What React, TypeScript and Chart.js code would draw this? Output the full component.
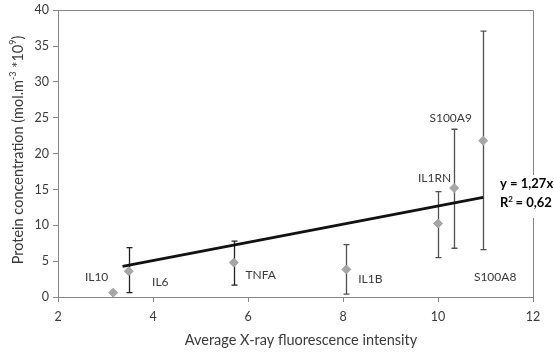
import React, { useEffect, useRef } from 'react';
import { Chart, registerables } from 'chart.js';

Chart.register(...registerables);

// ---- data ----
const names = ['IL10', 'IL6', 'TNFA', 'IL1B', 'IL1RN', 'S100A9', 'S100A8'];
const xValues = [3.16, 3.49, 5.7, 8.07, 10.0, 10.34, 10.95];
const yValues = [0.6, 3.6, 4.8, 3.85, 10.25, 15.2, 21.8];
const errorHigh = [0.6, 6.9, 7.8, 7.3, 14.7, 23.4, 37.1];
const errorLow = [0.6, 0.6, 1.65, 0.4, 5.5, 6.8, 6.6];
const slope = 1.27;
const slopeLabel = '1,27';
const rSquaredLabel = '0,62';
const trendStartX = 3.36;
const trendEndX = 10.95;
const xMin = 2;
const xMax = 12;
const xStep = 2;
const yMin = 0;
const yMax = 40;
const yStep = 5;

// ---- styles ----
const FONT = 'Lato, "Open Sans", sans-serif';
const TEXT = '#3a3a3a';
const AXIS = '#868686';
const labelOffsets = [
  [-16.5, -16],
  [31.5, 11],
  [27, 13],
  [24, 10],
  [-3.5, -45],
  [-3.5, -70],
  [12, 136],
];
const errColors = ['#333', '#222', '#222', '#505050', '#505050', '#505050', '#505050'];

const overlay = {
  id: 'overlay',
  beforeDatasetsDraw(chart: any) {
    const { ctx, chartArea: a, scales } = chart;
    const x = scales.x;
    const y = scales.y;
    ctx.save();
    // top and right border
    ctx.strokeStyle = AXIS;
    ctx.lineWidth = 1;
    ctx.beginPath();
    ctx.moveTo(a.left, Math.round(a.top) + 0.5);
    ctx.lineTo(Math.round(a.right) + 0.5, Math.round(a.top) + 0.5);
    ctx.lineTo(Math.round(a.right) + 0.5, a.bottom);
    ctx.stroke();
    // error bars
    for (let i = 0; i < xValues.length; i++) {
      if (errorHigh[i] === errorLow[i]) continue;
      const px = Math.round(x.getPixelForValue(xValues[i])) + 0.5;
      const hi = y.getPixelForValue(errorHigh[i]);
      const lo = y.getPixelForValue(errorLow[i]);
      ctx.strokeStyle = errColors[i];
      ctx.lineWidth = 1.3;
      ctx.beginPath();
      ctx.moveTo(px, hi);
      ctx.lineTo(px, lo);
      ctx.moveTo(px - 3, hi);
      ctx.lineTo(px + 3, hi);
      ctx.moveTo(px - 3, lo);
      ctx.lineTo(px + 3, lo);
      ctx.stroke();
    }
    ctx.restore();
  },
  afterDatasetsDraw(chart: any) {
    const { ctx, chartArea: a, scales } = chart;
    const x = scales.x;
    const y = scales.y;
    ctx.save();
    // point labels
    ctx.fillStyle = TEXT;
    ctx.font = `12px ${FONT}`;
    ctx.textAlign = 'center';
    ctx.textBaseline = 'middle';
    for (let i = 0; i < names.length; i++) {
      const px = x.getPixelForValue(xValues[i]);
      const py = y.getPixelForValue(yValues[i]);
      ctx.fillText(names[i], px + labelOffsets[i][0], py + labelOffsets[i][1]);
    }
    // equation box
    const ex = a.right - 36;
    ctx.fillStyle = '#ffffff';
    ctx.fillRect(ex, 175, 554 - ex, 43);
    ctx.fillStyle = '#000';
    ctx.font = `bold 13px ${FONT}`;
    ctx.textAlign = 'left';
    ctx.fillText(`y = ${slopeLabel}x`, a.right - 33, 184);
    const r = 'R';
    ctx.fillText(r, a.right - 33, 203);
    const rw = ctx.measureText(r).width;
    ctx.font = `bold 8px ${FONT}`;
    ctx.fillText('2', a.right - 33 + rw, 199);
    ctx.font = `bold 13px ${FONT}`;
    ctx.fillText(` = ${rSquaredLabel}`, a.right - 33 + rw + 4, 203);

    // x title
    ctx.fillStyle = TEXT;
    ctx.font = `14.5px ${FONT}`;
    ctx.textAlign = 'center';
    ctx.fillText('Average X-ray fluorescence intensity', 301, 340);

    // y title with superscripts
    const segs: [string, boolean][] = [
      ['Protein concentration (mol.m', false],
      ['-3', true],
      [' *10', false],
      ['9', true],
      [')', false],
    ];
    ctx.translate(18, 150);
    ctx.rotate(-Math.PI / 2);
    ctx.textAlign = 'left';
    let total = 0;
    const widths: number[] = [];
    for (const [t, sup] of segs) {
      ctx.font = sup ? `9px ${FONT}` : `14.5px ${FONT}`;
      const w = ctx.measureText(t).width;
      widths.push(w);
      total += w;
    }
    let cx = -total / 2;
    segs.forEach(([t, sup], i) => {
      ctx.font = sup ? `9px ${FONT}` : `14.5px ${FONT}`;
      ctx.fillText(t, cx, sup ? -5 : 0);
      cx += widths[i];
    });
    ctx.restore();
  },
};

export default function App() {
  const ref = useRef<HTMLCanvasElement | null>(null);
  useEffect(() => {
    if (!ref.current) return;
    const chart = new Chart(ref.current, {
      type: 'scatter',
      data: {
        datasets: [
          {
            type: 'line' as any,
            label: 'trend',
            data: [
              { x: trendStartX, y: slope * trendStartX },
              { x: trendEndX, y: slope * trendEndX },
            ],
            borderColor: '#111',
            borderWidth: 2.8,
            pointRadius: 0,
            showLine: true,
            fill: false,
          } as any,
          {
            label: 'proteins',
            data: xValues.map((v, i) => ({ x: v, y: yValues[i] })),
            pointStyle: 'rectRot',
            pointRadius: 4.5,
            pointBackgroundColor: '#A6A6A6',
            pointBorderColor: '#A6A6A6',
            pointBorderWidth: 1,
            showLine: false,
          } as any,
        ],
      },
      plugins: [overlay],
      options: {
        animation: false,
        responsive: false,
        maintainAspectRatio: false,
        layout: { padding: { top: 7, right: 21, left: 0, bottom: 0 } },
        plugins: {
          legend: { display: false },
          tooltip: { enabled: false },
        },
        scales: {
          x: {
            type: 'linear',
            min: xMin,
            max: xMax,
            ticks: {
              stepSize: xStep,
              color: TEXT,
              font: { family: FONT, size: 12.5, lineHeight: 1 },
              padding: 9,
            },
            grid: {
              display: true,
              drawOnChartArea: false,
              drawTicks: true,
              tickLength: 5,
              color: AXIS,
            },
            border: { display: true, color: AXIS, width: 1 },
            afterFit(scale: any) {
              scale.height = 57;
            },
          },
          y: {
            type: 'linear',
            min: yMin,
            max: yMax,
            ticks: {
              stepSize: yStep,
              color: TEXT,
              font: { family: FONT, size: 12.5, lineHeight: 1 },
              padding: 4,
            },
            grid: {
              display: true,
              drawOnChartArea: false,
              drawTicks: true,
              tickLength: 5,
              color: AXIS,
            },
            border: { display: true, color: AXIS, width: 1 },
            afterFit(scale: any) {
              scale.width = 58;
            },
          },
        },
      } as any,
    });
    return () => chart.destroy();
  }, []);
  return (
    <div style={{ position: 'fixed', left: 0, top: 0, width: 554, height: 354, background: '#fff' }}>
      <canvas ref={ref} width={554} height={354} style={{ width: 554, height: 354 }} />
    </div>
  );
}
